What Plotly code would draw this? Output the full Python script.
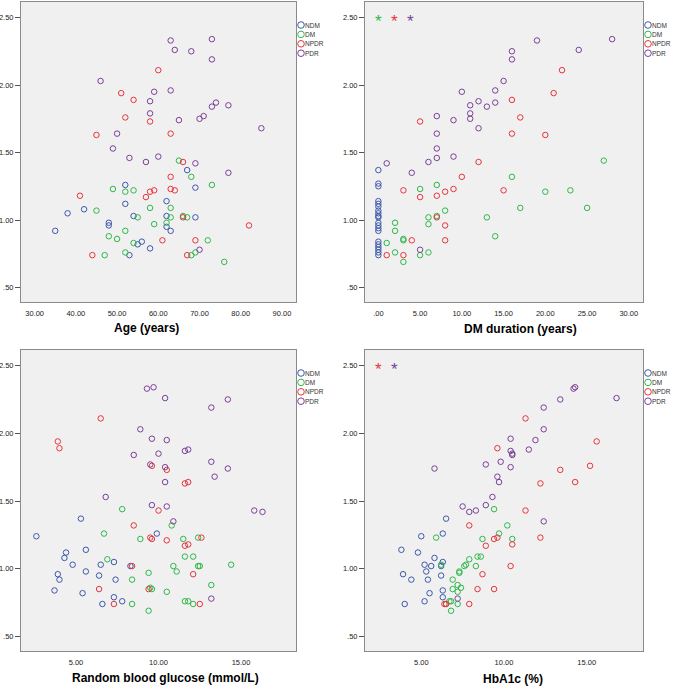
import plotly.graph_objects as go

groups = ["NDM", "DM", "NPDR", "PDR"]
colors = ["#3e58ac", "#2eb848", "#e8343c", "#7b3f98"]

# ---------- Panel 1: Age ----------
age_ndm_x = [67, 52, 69, 62, 52, 42, 38, 54, 62, 69, 48, 48, 62, 35, 63, 56, 55, 58, 53]
age_ndm_y = [1.37, 1.26, 1.24, 1.14, 1.12, 1.08, 1.05, 1.03, 1.03, 1.02, 0.98, 0.96, 0.95, 0.92, 0.92, 0.84, 0.82, 0.79, 0.74]
age_dm_x = [65, 68, 73, 49, 52, 54, 58, 63, 45, 55, 63, 66, 67, 62, 59, 52, 48, 50, 72, 54, 52, 69, 47, 68, 76]
age_dm_y = [1.44, 1.32, 1.26, 1.23, 1.21, 1.22, 1.09, 1.09, 1.07, 1.02, 1.02, 1.03, 1.02, 0.98, 0.97, 0.92, 0.88, 0.86, 0.85, 0.83, 0.76, 0.76, 0.74, 0.74, 0.69]
age_npdr_x = [60, 51, 54, 52, 58, 45, 63, 66, 63, 41, 57, 58, 59, 63, 64, 66, 82, 61, 69, 44, 67]
age_npdr_y = [2.11, 1.94, 1.89, 1.76, 1.73, 1.63, 1.64, 1.43, 1.32, 1.18, 1.17, 1.21, 1.22, 1.23, 1.22, 1.02, 0.96, 0.85, 0.85, 0.74, 0.74]
age_pdr_x = [63, 73, 64, 68, 73, 46, 59, 63, 58, 73, 74, 77, 58, 65, 70, 71, 85, 50, 49, 53, 60, 57, 69, 77, 70]
age_pdr_y = [2.33, 2.34, 2.26, 2.25, 2.19, 2.03, 1.95, 1.96, 1.88, 1.84, 1.87, 1.85, 1.79, 1.74, 1.75, 1.77, 1.68, 1.64, 1.53, 1.46, 1.47, 1.43, 1.42, 1.35, 0.78]

# ---------- Panel 2: DM duration ----------
dur_ndm_x = [0] * 20
dur_ndm_y = [1.37, 1.27, 1.25, 1.14, 1.12, 1.10, 1.07, 1.05, 1.03, 1.02, 0.98, 0.96, 0.94, 0.92, 0.84, 0.82, 0.80, 0.78, 0.76, 0.74]
dur_dm_x = [27, 16, 7, 5, 20, 23, 8, 17, 25, 6, 7, 13, 2, 6, 2, 3, 3, 14, 1, 2, 6, 5, 3]
dur_dm_y = [1.44, 1.32, 1.26, 1.23, 1.21, 1.22, 1.07, 1.09, 1.09, 1.02, 1.03, 1.02, 0.98, 0.97, 0.92, 0.86, 0.85, 0.88, 0.83, 0.76, 0.76, 0.74, 0.69]
dur_npdr_x = [22, 21, 16, 17, 5, 16, 20, 12, 10, 3, 9, 8, 15, 5, 7, 7, 8, 4, 8, 1, 3]
dur_npdr_y = [2.11, 1.94, 1.89, 1.76, 1.73, 1.64, 1.63, 1.43, 1.32, 1.22, 1.23, 1.21, 1.22, 1.17, 1.18, 1.02, 0.96, 0.85, 0.85, 0.74, 0.74]
dur_pdr_x = [19, 28, 16, 24, 16, 15, 10, 14, 12, 11, 13, 14, 11, 11, 7, 9, 12, 7, 7, 7, 9, 6, 1, 4, 5]
dur_pdr_y = [2.33, 2.34, 2.25, 2.26, 2.19, 2.03, 1.95, 1.96, 1.88, 1.85, 1.84, 1.87, 1.79, 1.75, 1.77, 1.74, 1.68, 1.64, 1.53, 1.46, 1.47, 1.43, 1.42, 1.35, 0.78]

# ---------- Panel 3: Random blood glucose ----------
rbg_ndm_x = [5.3, 2.6, 9.9, 5.6, 4.4, 4.3, 7.3, 4.8, 6.5, 8.3, 5.6, 3.9, 6.4, 4.0, 7.4, 3.7, 5.4, 7.3, 7.8, 6.6]
rbg_ndm_y = [1.37, 1.24, 1.26, 1.14, 1.12, 1.08, 1.05, 1.03, 1.03, 1.02, 0.98, 0.96, 0.95, 0.92, 0.92, 0.84, 0.82, 0.79, 0.76, 0.74]
rbg_dm_x = [7.8, 10.8, 6.7, 8.9, 11.5, 12.4, 6.9, 11.6, 12.1, 10.9, 12.4, 12.5, 14.4, 11.1, 9.4, 8.4, 13.2, 9.5, 9.6, 10.5, 11.6, 11.8, 8.4, 12.1, 9.4]
rbg_dm_y = [1.44, 1.32, 1.26, 1.22, 1.22, 1.23, 1.07, 1.09, 1.09, 1.02, 1.02, 1.02, 1.03, 0.98, 0.97, 0.92, 0.88, 0.86, 0.85, 0.83, 0.76, 0.76, 0.74, 0.74, 0.69]
rbg_npdr_x = [6.5, 3.9, 4.0, 9.6, 10.5, 11.6, 11.8, 10.0, 8.5, 9.5, 9.6, 10.5, 12.6, 11.6, 11.8, 8.4, 12.1, 6.4, 9.4, 7.3, 12.5]
rbg_npdr_y = [2.11, 1.94, 1.89, 1.76, 1.73, 1.63, 1.64, 1.43, 1.32, 1.23, 1.22, 1.21, 1.23, 1.17, 1.18, 1.02, 0.96, 0.85, 0.85, 0.74, 0.74]
rbg_pdr_x = [9.3, 9.7, 10.4, 13.2, 14.2, 8.9, 9.6, 10.5, 8.5, 10.0, 11.6, 11.8, 9.5, 10.4, 13.2, 14.2, 13.4, 10.4, 6.8, 9.6, 10.5, 15.8, 16.3, 10.9, 13.2]
rbg_pdr_y = [2.33, 2.34, 2.26, 2.19, 2.25, 2.03, 1.96, 1.95, 1.84, 1.85, 1.87, 1.88, 1.77, 1.75, 1.79, 1.74, 1.68, 1.64, 1.53, 1.47, 1.46, 1.43, 1.42, 1.35, 0.78]

# ---------- Panel 4: HbA1c ----------
hba_ndm_x = [6.5, 5.0, 6.3, 3.8, 4.8, 5.8, 6.3, 5.2, 5.6, 6.2, 5.3, 3.9, 6.2, 4.4, 5.4, 6.3, 5.5, 6.3, 5.2, 4.0]
hba_ndm_y = [1.37, 1.24, 1.26, 1.14, 1.12, 1.08, 1.05, 1.03, 1.02, 1.02, 0.98, 0.96, 0.95, 0.92, 0.92, 0.84, 0.82, 0.79, 0.76, 0.74]
hba_dm_x = [9.4, 10.2, 5.9, 9.7, 8.7, 10.5, 7.9, 8.4, 8.6, 6.2, 7.6, 7.7, 8.3, 7.3, 7.3, 6.9, 7.2, 6.9, 7.4, 7.2, 6.7, 6.8, 6.5, 7.2, 6.8]
hba_dm_y = [1.44, 1.32, 1.23, 1.26, 1.22, 1.22, 1.07, 1.09, 1.09, 1.03, 1.02, 1.03, 1.02, 0.98, 0.97, 0.92, 0.88, 0.85, 0.86, 0.83, 0.76, 0.76, 0.74, 0.74, 0.69]
hba_npdr_x = [11.3, 15.6, 9.6, 15.2, 13.4, 12.2, 14.3, 11.3, 7.9, 9.4, 9.6, 12.2, 8.9, 10.5, 10.4, 8.7, 8.4, 9.4, 6.4, 6.5, 7.9]
hba_npdr_y = [2.11, 1.94, 1.89, 1.76, 1.73, 1.63, 1.64, 1.43, 1.32, 1.22, 1.23, 1.23, 1.17, 1.18, 1.02, 0.96, 0.85, 0.85, 0.74, 0.74, 0.74]
hba_pdr_x = [14.2, 14.3, 13.4, 16.8, 12.4, 12.4, 10.4, 11.9, 10.4, 11.5, 10.5, 10.5, 8.9, 9.8, 10.4, 5.8, 9.6, 9.7, 9.3, 7.5, 8.9, 7.9, 8.3, 12.4, 7.2]
hba_pdr_y = [2.33, 2.34, 2.25, 2.26, 2.19, 2.03, 1.96, 1.95, 1.87, 1.88, 1.85, 1.84, 1.77, 1.79, 1.75, 1.74, 1.68, 1.64, 1.53, 1.46, 1.47, 1.42, 1.43, 1.35, 0.78]

# Axis ticks
y_tickvals = [0.5, 1.0, 1.5, 2.0, 2.5]
y_ticktext = [".50", "1.00", "1.50", "2.00", "2.50"]
age_tickvals = [30, 40, 50, 60, 70, 80, 90]
age_ticktext = ["30.00", "40.00", "50.00", "60.00", "70.00", "80.00", "90.00"]
dur_tickvals = [0, 5, 10, 15, 20, 25, 30]
dur_ticktext = [".00", "5.00", "10.00", "15.00", "20.00", "25.00", "30.00"]
glu_tickvals = [5, 10, 15]
glu_ticktext = ["5.00", "10.00", "15.00"]

axis_titles = ["Age (years)", "DM duration (years)", "Random blood glucose (mmol/L)", "HbA1c (%)"]
sig_duration = ["DM", "NPDR", "PDR"]
sig_hba1c = ["NPDR", "PDR"]

panels = [
    [(age_ndm_x, age_ndm_y), (age_dm_x, age_dm_y), (age_npdr_x, age_npdr_y), (age_pdr_x, age_pdr_y)],
    [(dur_ndm_x, dur_ndm_y), (dur_dm_x, dur_dm_y), (dur_npdr_x, dur_npdr_y), (dur_pdr_x, dur_pdr_y)],
    [(rbg_ndm_x, rbg_ndm_y), (rbg_dm_x, rbg_dm_y), (rbg_npdr_x, rbg_npdr_y), (rbg_pdr_x, rbg_pdr_y)],
    [(hba_ndm_x, hba_ndm_y), (hba_dm_x, hba_dm_y), (hba_npdr_x, hba_npdr_y), (hba_pdr_x, hba_pdr_y)],
]

W, H = 673, 686
# pixel geometry of plot areas (left, right, top, bottom)
boxes = [(21, 296, 2, 302), (365, 643, 2, 302), (21, 296, 350, 651), (365, 643, 350, 651)]
x_ranges = [[26.7, 93.4], [-1.6, 31.7], [1.67, 18.33], [1.6, 18.4]]
x_ticks = [(age_tickvals, age_ticktext), (dur_tickvals, dur_ticktext),
           (glu_tickvals, glu_ticktext), (glu_tickvals, glu_ticktext)]
title_pos = [(146, 328), (520, 329), (165, 678), (513, 679)]

fig = go.Figure()
for p, data in enumerate(panels):
    suffix = "" if p == 0 else str(p + 1)
    for g, (xs, ys) in enumerate(data):
        fig.add_trace(go.Scatter(
            x=xs, y=ys, mode="markers", name=groups[g], showlegend=False,
            xaxis="x" + suffix, yaxis="y" + suffix,
            marker=dict(symbol="circle-open", size=5.5, color=colors[g], line=dict(width=1, color=colors[g])),
        ))

tickfont = dict(family="Liberation Sans, Arial", size=7.5, color="#222")
layout = dict(
    width=W, height=H, margin=dict(l=0, r=0, t=0, b=0),
    paper_bgcolor="white", plot_bgcolor="#f0f0f0",
    showlegend=False, font=dict(family="Liberation Sans, Arial"),
)
annotations = []
shapes = []
for p in range(4):
    suffix = "" if p == 0 else str(p + 1)
    l, r, t, b = boxes[p]
    layout["xaxis" + suffix] = dict(
        domain=[l / W, r / W], range=x_ranges[p], anchor="y" + suffix,
        tickvals=x_ticks[p][0], ticktext=x_ticks[p][1], tickfont=tickfont,
        ticks="outside", ticklen=4, tickcolor="rgba(0,0,0,0)",
        showgrid=False, zeroline=False, showline=True, mirror=True,
        linecolor="#8a8a8a", linewidth=1, automargin=False,
    )
    layout["yaxis" + suffix] = dict(
        domain=[1 - b / H, 1 - t / H], range=[0.393, 2.615], anchor="x" + suffix,
        tickvals=y_tickvals, ticktext=y_ticktext, tickfont=tickfont,
        ticks="outside", ticklen=5, tickcolor="#555", tickwidth=1,
        showgrid=False, zeroline=False, showline=True, mirror=True,
        linecolor="#8a8a8a", linewidth=1, automargin=False,
    )
    # axis title
    tx, ty = title_pos[p]
    annotations.append(dict(
        text="<b>" + axis_titles[p] + "</b>", xref="paper", yref="paper",
        x=tx / W, y=1 - ty / H, xanchor="center", yanchor="middle", showarrow=False,
        font=dict(family="Liberation Sans, Arial", size=12, color="#000"),
    ))
    # manual legend
    lx = r + 5
    ly0 = t + 23
    for g, name in enumerate(groups):
        cy = ly0 + g * 9.4
        shapes.append(dict(
            type="circle", xref="paper", yref="paper", xsizemode="pixel", ysizemode="pixel",
            xanchor=lx / W, yanchor=1 - cy / H, x0=-3.3, x1=3.3, y0=-3.3, y1=3.3,
            line=dict(color=colors[g], width=1), fillcolor="rgba(0,0,0,0)",
        ))
        annotations.append(dict(
            text=name, xref="paper", yref="paper", x=(lx + 3) / W, y=1 - cy / H,
            xanchor="left", yanchor="middle", showarrow=False, borderpad=0,
            font=dict(family="Liberation Sans, Arial", size=6.5, color="#333"),
        ))

# significance asterisks
for p, sig in ((1, sig_duration), (3, sig_hba1c)):
    suffix = str(p + 1)
    l, r, t, b = boxes[p]
    for i, name in enumerate(sig):
        px = 13 + 16 * i
        annotations.append(dict(
            text="*", xref="x" + suffix + " domain", yref="y" + suffix,
            x=px / (r - l), y=2.5, xanchor="center", yanchor="middle", yshift=-4,
            showarrow=False,
            font=dict(family="Liberation Sans, Arial", size=17, color=colors[groups.index(name)]),
        ))

layout["annotations"] = annotations
layout["shapes"] = shapes
fig.update_layout(**layout)
fig.write_html("out.html", config={"displayModeBar": False},
               post_script="document.body.style.margin='0';document.body.style.overflow='hidden';")
